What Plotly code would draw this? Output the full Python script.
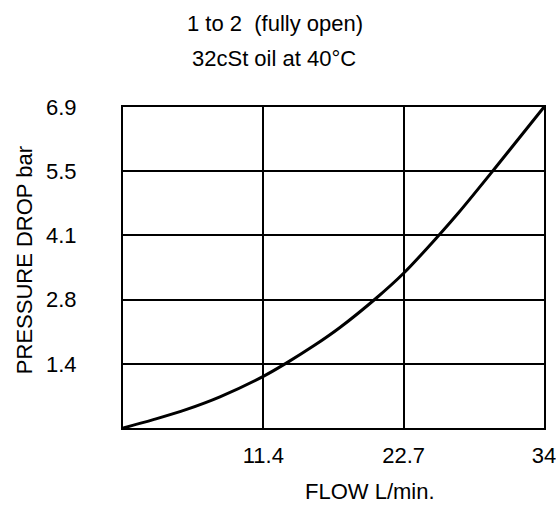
import plotly.graph_objects as go

# Data
flow = [0, 2.45, 5.14, 7.83, 11.33, 13.22, 15.37, 17.52, 20.49, 22.64, 25.6, 27.08, 29.91, 34.0]
pressure_drop = [0, 0.18, 0.40, 0.67, 1.11, 1.40, 1.76, 2.16, 2.80, 3.32, 4.17, 4.62, 5.54, 6.9]

x_tick_vals = [11.333, 22.667, 34]
x_tick_labels = ["11.4", "22.7", "34"]
y_tick_vals = [1.38, 2.76, 4.14, 5.52, 6.9]
y_tick_labels = ["1.4", "2.8", "4.1", "5.5", "6.9"]

title_line1 = "1 to 2 &nbsp;(fully open)"
title_line2 = "32cSt oil at 40°C"
x_title = "FLOW L/min."
y_title = "PRESSURE DROP bar"

FONT = "Liberation Sans, Arial, Helvetica, sans-serif"
FS = 22

fig = go.Figure()
fig.add_trace(go.Scatter(
    x=flow, y=pressure_drop, mode="lines",
    line=dict(color="black", width=3, shape="spline", smoothing=1.0),
    showlegend=False, hoverinfo="skip",
))

axis_common = dict(
    showline=True, mirror=True, linecolor="black", linewidth=2,
    showgrid=True, gridcolor="black", gridwidth=1.5,
    zeroline=False, ticks="", fixedrange=True, automargin=False,
    tickfont=dict(family=FONT, size=FS, color="black"),
)

fig.update_xaxes(range=[0, 34], tickmode="array", tickvals=x_tick_vals,
                 ticktext=x_tick_labels, ticklabelstandoff=7,
                 ticklabeloverflow="allow", **axis_common)
fig.update_yaxes(range=[0, 6.9], tickmode="array", tickvals=y_tick_vals,
                 ticktext=y_tick_labels, ticklabelstandoff=40, **axis_common)

fig.update_layout(
    width=556, height=513, autosize=False,
    margin=dict(l=123, r=12, t=107, b=85, autoexpand=False),
    paper_bgcolor="white", plot_bgcolor="white",
    font=dict(family=FONT, size=FS, color="black"),
    annotations=[
        dict(text=title_line1, x=0.362, y=1.26, xref="paper", yref="paper",
             showarrow=False, xanchor="center", yanchor="middle",
             font=dict(family=FONT, size=FS, color="black")),
        dict(text=title_line2, x=0.359, y=1.151, xref="paper", yref="paper",
             showarrow=False, xanchor="center", yanchor="middle",
             font=dict(family=FONT, size=FS, color="black")),
        dict(text=x_title, x=0.587, y=-0.199, xref="paper", yref="paper",
             showarrow=False, xanchor="center", yanchor="middle",
             font=dict(family=FONT, size=FS, color="black")),
        dict(text=y_title, x=-0.235, y=0.523, xref="paper", yref="paper",
             showarrow=False, xanchor="center", yanchor="middle", textangle=-90,
             font=dict(family=FONT, size=FS, color="black")),
    ],
)

fig.write_html(
    "out.html",
    config={"responsive": False, "displayModeBar": False},
    post_script="document.body.style.margin='0';document.body.style.overflow='hidden';",
)
